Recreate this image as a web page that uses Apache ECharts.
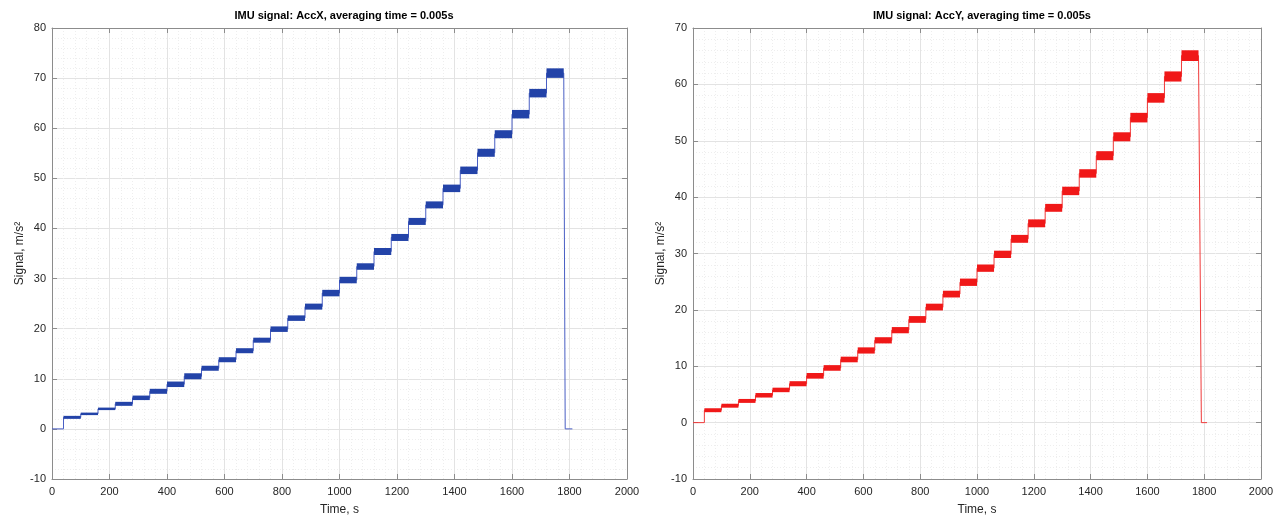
<!DOCTYPE html>
<html>
<head>
<meta charset="utf-8">
<title>IMU signal</title>
<script src="https://cdn.jsdelivr.net/npm/echarts@6/dist/echarts.min.js"></script>
<style>
  html, body { margin: 0; padding: 0; background: #fff; }
  #main { width: 1288px; height: 522px; }
</style>
</head>
<body>
<div id="main"></div>
<script>
// step start times, s (each step lasts 60 s)
var stepStart = [40, 100, 160, 220, 280, 340, 400, 460, 520, 580, 640, 700, 760, 820, 880,
  940, 1000, 1060, 1120, 1180, 1240, 1300, 1360, 1420, 1480, 1540, 1600, 1660, 1720];
var stepEnd = [100, 160, 220, 280, 340, 400, 460, 520, 580, 640, 700, 760, 820, 880, 940,
  1000, 1060, 1120, 1180, 1240, 1300, 1360, 1420, 1480, 1540, 1600, 1660, 1720, 1780];
// level of each step, m/s^2
var accX = [2.3, 3.0, 4.0, 5.0, 6.2, 7.5, 8.9, 10.5, 12.1, 13.8, 15.6, 17.7, 19.9, 22.1, 24.4,
  27.1, 29.7, 32.4, 35.4, 38.2, 41.4, 44.7, 48.0, 51.6, 55.1, 58.8, 62.8, 67.0, 71.0];
var accY = [2.2, 3.0, 3.85, 4.85, 5.8, 6.9, 8.3, 9.7, 11.2, 12.8, 14.6, 16.4, 18.3, 20.5, 22.8,
  24.9, 27.4, 29.85, 32.6, 35.35, 38.1, 41.1, 44.2, 47.35, 50.7, 54.1, 57.6, 61.4, 65.1];
// noise band height of each step, m/s^2
var noiseX = [0.6, 0.5, 0.5, 0.8, 0.9, 1.0, 1.1, 1.2, 1.0, 1.0, 1.0, 1.0, 1.1, 1.1, 1.2,
  1.3, 1.3, 1.3, 1.4, 1.4, 1.4, 1.4, 1.5, 1.5, 1.6, 1.6, 1.7, 1.7, 1.9];
var noiseY = [0.7, 0.7, 0.7, 0.8, 0.8, 0.9, 1.0, 1.0, 1.0, 1.1, 1.1, 1.1, 1.2, 1.2, 1.2,
  1.3, 1.3, 1.3, 1.4, 1.4, 1.4, 1.5, 1.5, 1.6, 1.6, 1.7, 1.7, 1.8, 1.9];
// idle parts before and after the steps
var headX = [[0, 0], [40, 0]];
var tailX = [[1785, 0], [1810, 0]];
var headY = [[0, 0], [40, 0]];
var tailY = [[1790, 0], [1810, 0]];

function stairs(head, levels, tail) {
  var pts = head.slice();
  levels.forEach(function (v, i) {
    pts.push([stepStart[i], v]);
    pts.push([stepEnd[i], v]);
  });
  return pts.concat(tail);
}
function bands(levels, noise) {
  return levels.map(function (v, i) { return [stepStart[i], stepEnd[i], v, noise[i]]; });
}
function bandItem(params, api) {
  var p0 = api.coord([api.value(0), api.value(2) + api.value(3) / 2]);
  var p1 = api.coord([api.value(1), api.value(2) - api.value(3) / 2]);
  return {
    type: 'rect',
    shape: { x: p0[0], y: p0[1], width: p1[0] - p0[0], height: p1[1] - p0[1] },
    style: { fill: api.visual('color') }
  };
}

var font = 'Liberation Sans, Arial, sans-serif';
var gridColor = '#e3e3e3';

function xAx(grid, pos) {
  var bottom = pos === 'bottom';
  return {
    type: 'value', gridIndex: grid, position: pos, min: 0, max: 2000, interval: 200,
    name: bottom ? 'Time, s' : '', nameLocation: 'middle', nameGap: 25,
    nameTextStyle: { color: '#262626', fontSize: 12, fontFamily: font },
    axisLine: { show: true, onZero: false, lineStyle: { color: '#8c8c8c' } },
    axisTick: { show: true, inside: true, length: 5, lineStyle: { color: '#8c8c8c' } },
    axisLabel: { show: bottom, color: '#262626', fontSize: 11, fontFamily: font, margin: 7,
      formatter: function (v) { return String(v); } },
    splitLine: { show: bottom, lineStyle: { color: gridColor } },
    minorTick: { show: bottom, splitNumber: 5, length: 0 },
    minorSplitLine: { show: bottom, lineStyle: { color: '#eeeeee', type: [1, 2] } }
  };
}
function yAx(grid, pos, max) {
  var left = pos === 'left';
  return {
    type: 'value', gridIndex: grid, position: pos, min: -10, max: max, interval: 10,
    name: left ? 'Signal, m/s²' : '', nameLocation: 'middle', nameGap: 26, nameRotate: 90,
    nameTextStyle: { color: '#262626', fontSize: 12, fontFamily: font },
    axisLine: { show: true, onZero: false, lineStyle: { color: '#8c8c8c' } },
    axisTick: { show: true, inside: true, length: 5, lineStyle: { color: '#8c8c8c' } },
    axisLabel: { show: left, color: '#262626', fontSize: 11, fontFamily: font, margin: 6 },
    splitLine: { show: left, lineStyle: { color: gridColor } },
    minorTick: { show: left, splitNumber: 5, length: 0 },
    minorSplitLine: { show: left, lineStyle: { color: '#eeeeee', type: [1, 2] } }
  };
}

var myChart = echarts.init(document.getElementById('main'));
var option = {
  backgroundColor: '#fff',
  animation: false,
  title: [
    { text: 'IMU signal: AccX, averaging time = 0.005s', left: 339, top: 5, textAlign: 'center',
      textStyle: { fontSize: 11, fontWeight: 'bold', color: '#000', fontFamily: font } },
    { text: 'IMU signal: AccY, averaging time = 0.005s', left: 977, top: 5, textAlign: 'center',
      textStyle: { fontSize: 11, fontWeight: 'bold', color: '#000', fontFamily: font } }
  ],
  grid: [
    { left: 52, top: 28, width: 575, height: 451 },
    { left: 693, top: 28, width: 568, height: 451 }
  ],
  xAxis: [xAx(0, 'bottom'), xAx(0, 'top'), xAx(1, 'bottom'), xAx(1, 'top')],
  yAxis: [yAx(0, 'left', 80), yAx(0, 'right', 80), yAx(1, 'left', 70), yAx(1, 'right', 70)],
  series: [
    { name: 'AccX', type: 'line', xAxisIndex: 0, yAxisIndex: 0, data: stairs(headX, accX, tailX),
      showSymbol: false, lineStyle: { width: 1, color: '#4a5fc4' }, z: 3 },
    { name: 'AccX band', type: 'custom', xAxisIndex: 0, yAxisIndex: 0, data: bands(accX, noiseX),
      encode: { x: [0, 1], y: 2 }, renderItem: bandItem, itemStyle: { color: '#2343a8' }, z: 4 },
    { name: 'AccY', type: 'line', xAxisIndex: 2, yAxisIndex: 2, data: stairs(headY, accY, tailY),
      showSymbol: false, lineStyle: { width: 1, color: '#f03a3a' }, z: 3 },
    { name: 'AccY band', type: 'custom', xAxisIndex: 2, yAxisIndex: 2, data: bands(accY, noiseY),
      encode: { x: [0, 1], y: 2 }, renderItem: bandItem, itemStyle: { color: '#f01818' }, z: 4 }
  ]
};
myChart.setOption(option);
</script>
</body>
</html>
